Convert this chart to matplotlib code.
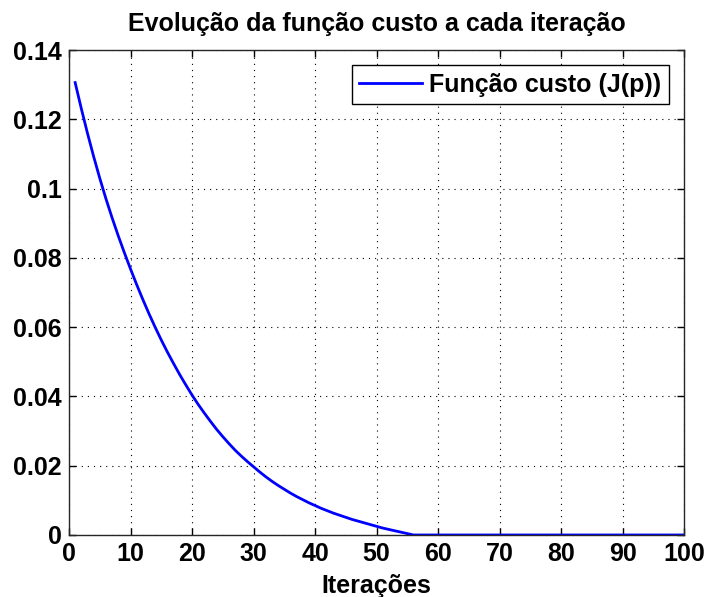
import matplotlib
matplotlib.use("Agg")
import matplotlib.pyplot as plt

# cost function value per iteration
iteracoes = list(range(1, 101))
custo = [
    0.1306, 0.1231, 0.1160, 0.1093, 0.1030, 0.0971, 0.0916, 0.0864, 0.0815, 0.0768,
    0.0723, 0.0680, 0.0639, 0.0600, 0.0563, 0.0528, 0.0495, 0.0463, 0.0433, 0.0404,
    0.0377, 0.0352, 0.0328, 0.0305, 0.0284, 0.0264, 0.0245, 0.0228, 0.0212, 0.0197,
    0.0182, 0.0168, 0.0155, 0.0143, 0.0132, 0.0121, 0.0111, 0.0102, 0.0093, 0.0085,
    0.0077, 0.0070, 0.0063, 0.0057, 0.0051, 0.0045, 0.0040, 0.0035, 0.0030, 0.0025,
    0.0020, 0.0016, 0.0012, 0.0008, 0.0004, 0.0000, 0.0000, 0.0000, 0.0000, 0.0000,
    0.0000, 0.0000, 0.0000, 0.0000, 0.0000, 0.0000, 0.0000, 0.0000, 0.0000, 0.0000,
    0.0000, 0.0000, 0.0000, 0.0000, 0.0000, 0.0000, 0.0000, 0.0000, 0.0000, 0.0000,
    0.0000, 0.0000, 0.0000, 0.0000, 0.0000, 0.0000, 0.0000, 0.0000, 0.0000, 0.0000,
    0.0000, 0.0000, 0.0000, 0.0000, 0.0000, 0.0000, 0.0000, 0.0000, 0.0000, 0.0000,
]

x_ticks = [0, 10, 20, 30, 40, 50, 60, 70, 80, 90, 100]
y_ticks = [0, 0.02, 0.04, 0.06, 0.08, 0.1, 0.12, 0.14]
y_tick_labels = ["0", "0.02", "0.04", "0.06", "0.08", "0.1", "0.12", "0.14"]

plt.rcParams["font.family"] = ["Liberation Sans", "DejaVu Sans"]
plt.rcParams["font.weight"] = "bold"
plt.rcParams["font.size"] = 18

fig = plt.figure(figsize=(7.07, 5.97), dpi=100)
ax = fig.add_axes([0.0976, 0.1039, 0.8699, 0.8123])

ax.plot(iteracoes, custo, color="#0000ff", linewidth=2, label="Função custo (J(p))")

ax.set_xlim(0, 100)
ax.set_ylim(0, 0.14)
ax.set_xticks(x_ticks)
ax.set_yticks(y_ticks)
ax.set_yticklabels(y_tick_labels)

# matlab style dotted grid, ticks inside on all four sides
ax.grid(True, color="black", linestyle=(0, (1, 4.5)), linewidth=0.8)
ax.tick_params(direction="in", length=5, width=1, top=True, right=True, pad=5)
for spine in ax.spines.values():
    spine.set_linewidth(1)
    spine.set_color("#262626")

ax.set_title("Evolução da função custo a cada iteração", fontsize=18, fontweight="bold", pad=14)
ax.set_xlabel("Iterações", fontsize=18, fontweight="bold", labelpad=6)

leg = ax.legend(loc="upper right", fancybox=False, framealpha=1, borderpad=0.3,
                handlelength=2.5, handletextpad=0.3, borderaxespad=0.6)
leg.get_frame().set_edgecolor("black")
leg.get_frame().set_linewidth(1)

fig.savefig("out.png", dpi=100)
